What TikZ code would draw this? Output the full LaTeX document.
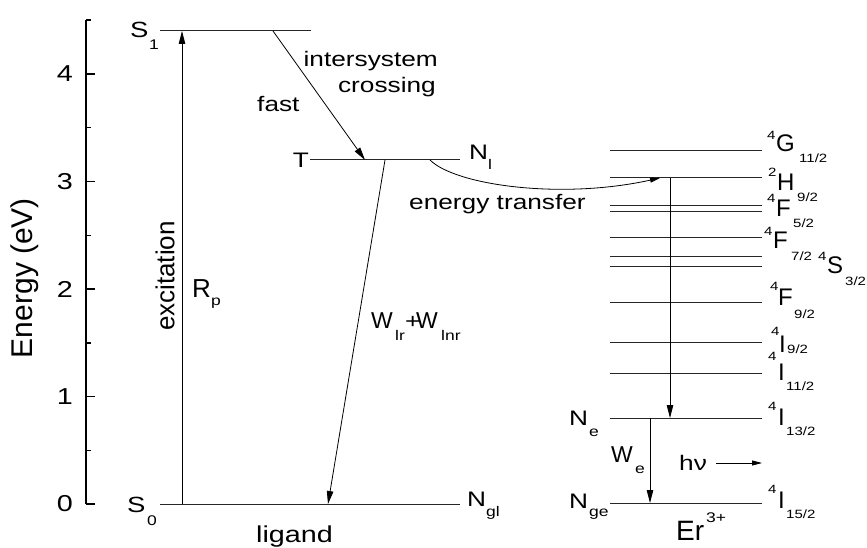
\documentclass[tikz,border=0pt]{standalone}
\usepackage{fontspec}
\setmainfont{Liberation Sans}
\newfontfamily\wf[FakeStretch=1.25]{Liberation Sans}
\usetikzlibrary{arrows.meta}
\newcommand\fsz[1]{\fontsize{#1}{#1}\selectfont}
\begin{document}
\begin{tikzpicture}[x=1pt,y=-1pt,
 axisln/.style={line width=1.5pt,black},
 lvl/.style={line width=1pt,black!85},
 arr/.style={line width=0.8pt,-{Triangle[length=13pt,width=6.5pt]}},
 sarr/.style={line width=0.8pt,-{Triangle[length=10pt,width=5pt]}},
 lb/.style={inner sep=0,anchor=base west,font=\wf\fsz{21}},
 wb/.style={inner sep=0,anchor=base west,font=\fsz{23}},
 sb/.style={inner sep=0,anchor=base west,font=\wf\fsz{14}},
 tm/.style={inner sep=0,anchor=base west,font=\fsz{24}},
 ts/.style={inner sep=0,anchor=base west,font=\wf\fsz{12}},
]
\useasboundingbox (0,0) rectangle (867,548);

% axis
\draw[axisln] (86,20) -- (86,504);
\foreach \v in {0,1,2,3,4} {
  \draw[axisln] (86,{504-107.5*\v}) -- (95,{504-107.5*\v});
  \node[inner sep=0,anchor=east,font=\wf\fsz{23}] (tk\v) at (73,{504-107.5*\v}) {\v};
}
\foreach \v in {0.5,1.5,2.5,3.5,4.5} {
  \draw[axisln] (86,{504-107.5*\v}) -- (91,{504-107.5*\v});
}
\node[rotate=90,inner sep=0,font=\fsz{30}] (ytitle) at (25,278) {Energy (eV)};

% ligand levels
\coordinate (S1a) at (160,31); \coordinate (S1b) at (311,31);
\coordinate (Ta) at (310,160); \coordinate (Tb) at (460,160);
\coordinate (S0a) at (160,504); \coordinate (S0b) at (460,504);
\draw[lvl] (S1a) -- (S1b);
\draw[lvl] (Ta) -- (Tb);
\draw[lvl] (S0a) -- (S0b);

% Er levels
\foreach \yy in {151,178,206,212,237,256,266,302,342,373,418,503} {
  \draw[lvl] (610,\yy) -- (762,\yy);
}

% arrows
\coordinate (exA) at (182,504); \coordinate (exB) at (182,31);
\coordinate (iscA) at (273,31); \coordinate (iscB) at (365,160);
\coordinate (wA) at (385,160); \coordinate (wB) at (328,504);
\coordinate (etA) at (430,160); \coordinate (etB) at (660,178);
\coordinate (erA) at (670,178); \coordinate (erB) at (670,418);
\coordinate (weA) at (650,418); \coordinate (weB) at (650,503);
\coordinate (hvA) at (716,463); \coordinate (hvB) at (762,463);
\draw[arr] (exA) -- (exB);
\draw[arr] (iscA) -- (iscB);
\draw[arr] (wA) -- (wB);
\draw[sarr] (etA) .. controls (455,185) and (560,200) .. (etB);
\draw[arr] (erA) -- (erB);
\draw[arr] (weA) -- (weB);
\draw[sarr] (hvA) -- (hvB);

% left labels
\node[lb,font=\wf\fsz{22}] (S1t) at (130,38) {S};
\node[sb] (S1s) at (149,50) {1};
\node[lb,font=\wf\fsz{22}] (S0t) at (127,512) {S};
\node[sb] (S0s) at (147,525) {0};
\node[inner sep=0,anchor=east,font=\wf\fsz{21}] (Tt) at (309,160) {T};
\node[lb] (Nl) at (469,160) {N};
\node[sb] (Nls) at (488,170) {l};
\node[lb] (Ngl) at (467,506) {N};
\node[sb] (Ngls) at (486,516) {gl};
\node[lb,anchor=base east] (isc1) at (438,67) {intersystem};
\node[lb,anchor=base east] (isc2) at (436,93) {crossing};
\node[lb] (fast) at (257,112) {fast};
\node[lb] (etr) at (409,210) {energy transfer};
\node[wb] (W1) at (371,328) {W};
\node[sb] (W1s) at (395,340) {lr};
\node[lb] (plus) at (405,328) {+};
\node[wb] (W2) at (416,328) {W};
\node[sb] (W2s) at (441,340) {lnr};
\node[inner sep=0,anchor=base west,font=\fsz{26}] (R) at (192,297) {R};
\node[sb] (Rs) at (211,305) {p};
\node[rotate=90,inner sep=0,font=\fsz{26}] (exc) at (165,276) {excitation};
\node[inner sep=0,anchor=base west,font=\wf\fsz{23}] (lig) at (256,542) {ligand};

% Er side labels
\node[lb] (Ne) at (569,425) {N};
\node[sb] (Nes) at (589,436) {e};
\node[lb] (Nge) at (569,508) {N};
\node[sb] (Nges) at (589,516) {ge};
\node[wb] (We) at (611,462) {W};
\node[sb] (Wes) at (635,473) {e};
\node[lb] (hv) at (679,470) {hν};
\node[inner sep=0,anchor=base west,font=\fsz{28}] (Er) at (676,540) {Er};
\node[sb] (Ers) at (706,522) {3+};

% term symbols
\node[ts] (a1) at (767,140) {4}; \node[tm] (a2) at (776,152) {G}; \node[ts] (a3) at (799,163) {11/2};
\node[ts] (b1) at (768,177) {2}; \node[tm] (b2) at (777,191) {H}; \node[ts] (b3) at (797,202) {9/2};
\node[ts] (c1) at (767,203) {4}; \node[tm] (c2) at (776,216) {F}; \node[ts] (c3) at (793,227) {5/2};
\node[ts] (d1) at (764,236) {4}; \node[tm] (d2) at (773,248) {F}; \node[ts] (d3) at (791,260) {7/2};
\node[ts] (e1) at (818,260) {4}; \node[tm] (e2) at (827,273) {S}; \node[ts] (e3) at (845,285) {3/2};
\node[ts] (f1) at (770,290) {4}; \node[tm] (f2) at (778,305) {F}; \node[ts] (f3) at (794,318) {9/2};
\node[ts] (g1) at (771,335) {4}; \node[tm] (g2) at (779,352) {I}; \node[ts] (g3) at (787,353) {9/2};
\node[ts] (h1) at (768,360) {4}; \node[tm] (h2) at (778,380) {I}; \node[ts] (h3) at (786,390) {11/2};
\node[ts] (i1) at (768,410) {4}; \node[tm] (i2) at (778,425) {I}; \node[ts] (i3) at (786,435) {13/2};
\node[ts] (j1) at (768,493) {4}; \node[tm] (j2) at (778,508) {I}; \node[ts] (j3) at (786,518) {15/2};
\end{tikzpicture}
\end{document}
